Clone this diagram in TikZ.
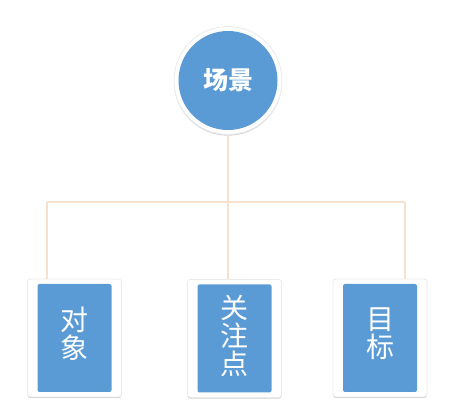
\documentclass[tikz,border=0pt]{standalone}
\usepackage{fontspec}
\newfontfamily\cjk{Noto Sans CJK SC}
\usetikzlibrary{shapes,arrows,positioning}
\usetikzlibrary{shadows}
\definecolor{tileblue}{HTML}{5B9BD5}
\definecolor{linkpeach}{HTML}{F6E1CF}
\tikzset{
	card/.style={rectangle, rounded corners=3pt, fill=white, draw=black!8, line width=0.8pt, minimum width=94pt, minimum height=118pt, drop shadow={shadow xshift=0pt, shadow yshift=-1.2pt, opacity=0.18, fill=black}},
	tile/.style={rectangle, rounded corners=2pt, fill=tileblue, minimum width=74pt, minimum height=108pt, text=white, align=center, font=\cjk\fontsize{28}{28}\selectfont},
	link/.style={draw=linkpeach, line width=2.6pt}
}

\begin{document}
\begin{tikzpicture}[x=1pt,y=-1pt]
			\useasboundingbox (0,0) rectangle (459,417);
			% top circle
			\node [circle, fill=white, draw=black!8, line width=0.8pt, minimum size=108pt, drop shadow={shadow xshift=0pt, shadow yshift=-1.2pt, opacity=0.18, fill=black}] (scene) at (228,80.5) {};
			\node [circle, fill=tileblue, minimum size=99pt, inner sep=0pt, text=white, font=\cjk\bfseries\fontsize{25}{26}\selectfont] (scenetile) at (scene.center) {场景};
			% cards
			\node [card] (objcard) at (74.5,338) {};
			\node [tile] (obj) at (objcard.center) {};
			\node [text=white, align=center, font=\cjk\fontsize{28}{28}\selectfont] (objtext) at ([yshift=4pt]obj.center) {对\\象};
			\node [card] (focuscard) at (234.5,338.5) {};
			\node [tile] (focus) at (focuscard.center) {};
			\node [text=white, align=center, font=\cjk\fontsize{28}{28}\selectfont] (focustext) at ([yshift=3pt]focus.center) {关\\注\\点};
			\node [card] (goalcard) at (380,338) {};
			\node [tile] (goal) at (goalcard.center) {};
			\node [text=white, align=center, font=\cjk\fontsize{28}{28}\selectfont] (goaltext) at ([yshift=4pt]goal.center) {目\\标};
			% connectors
			\coordinate (busleft) at (47,202);
			\coordinate (busright) at (405,202);
			\draw [link] (scene.south) -- (scene |- busleft);
			\draw [link] (busleft) -- (busright);
			\draw [link] (busleft) -- (busleft |- objcard.north);
			\draw [link] (scene |- busleft) -- (scene |- focuscard.north);
			\draw [link] (busright) -- (busright |- goalcard.north);
\end{tikzpicture}
\end{document}
